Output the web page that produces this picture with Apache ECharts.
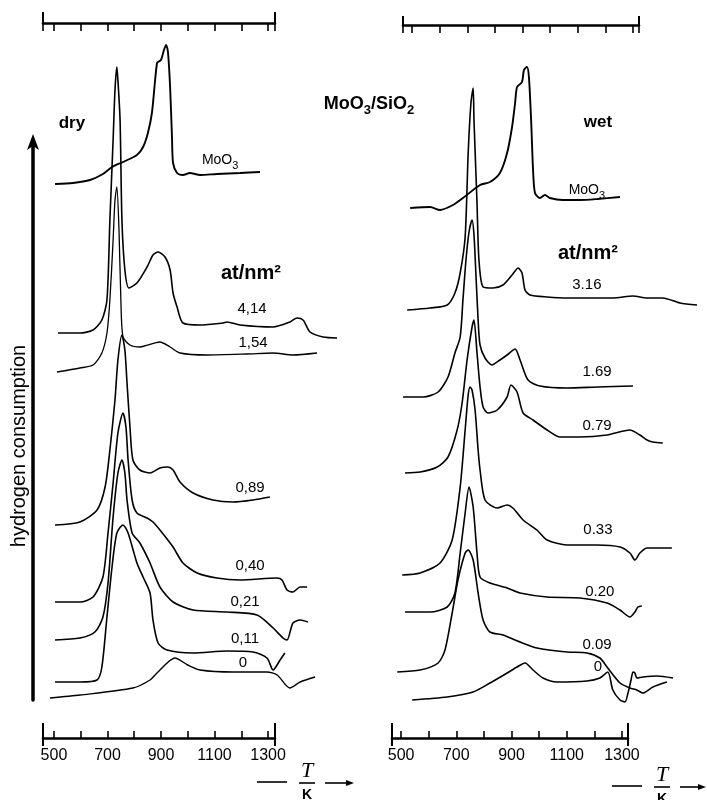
<!DOCTYPE html>
<html>
<head>
<meta charset="utf-8">
<script src="https://cdn.jsdelivr.net/npm/echarts@6/dist/echarts.min.js"></script>
<style>
html,body{margin:0;padding:0;background:#ffffff;}
#c{width:707px;height:800px;}
</style>
</head>
<body>
<div id="c"></div>
<script>
// ---------- DATA (temperature T in K, hydrogen consumption in arbitrary stacked units) ----------
const tickT  = [500, 600, 700, 800, 900, 1000, 1100, 1200, 1300];
const labelT = [500, 700, 900, 1100, 1300];
const dryAxisRange = [459, 1326];
const wetAxisRange = [467, 1322];
const curveMaxT = 1600;

// dry panel
const dryMoO3 = [[504,554],[571,555],[635,558],[683,564],[717,571],[758,576],[810,583],[833,591],[851,605],[866,625],[878,658],[885,675],[889,676],[900,678],[911,688],[919,693],[926,686],[934,651],[941,601],[945,575],[960,565],[982,563],[1008,565],[1046,563],[1109,564],[1195,565],[1270,566]];
const dry414 = [[515,405],[597,405],[646,408],[679,418],[698,438],[709,518],[721,598],[728,648],[735,671],[739,658],[747,618],[754,518],[765,468],[780,450],[810,455],[848,471],[870,483],[889,486],[915,481],[934,468],[945,445],[960,431],[982,415],[1046,413],[1132,415],[1147,416],[1195,413],[1319,411],[1382,416],[1408,420],[1431,418],[1457,406],[1506,401],[1558,400]];
const dry154 = [[511,366],[597,370],[646,373],[679,385],[698,405],[709,438],[721,498],[728,538],[735,551],[743,508],[750,438],[758,401],[784,393],[821,391],[896,396],[934,391],[971,385],[1072,383],[1221,384],[1319,385],[1393,383],[1483,385]];
const dry089 = [[504,213],[597,216],[661,228],[691,251],[709,288],[728,338],[739,378],[754,403],[765,388],[773,355],[784,311],[795,278],[821,268],[859,265],[896,270],[926,271],[945,268],[971,256],[1020,245],[1094,238],[1169,236],[1244,238],[1307,241]];
const dry040 = [[504,136],[597,136],[646,141],[683,161],[702,205],[721,255],[739,305],[758,325],[769,311],[777,278],[792,238],[810,225],[848,220],[870,216],[896,208],[945,191],[982,175],[1035,165],[1109,160],[1195,158],[1334,160],[1352,158],[1371,148],[1393,146],[1420,151],[1446,151]];
const dry021 = [[504,98],[597,100],[653,106],[683,121],[702,155],[721,221],[739,265],[754,278],[765,265],[773,238],[792,205],[821,195],[859,175],[896,151],[945,136],[1020,128],[1147,126],[1259,123],[1319,110],[1356,100],[1371,98],[1393,115],[1420,118],[1449,116]];
const dry011 = [[504,56],[597,56],[661,58],[679,71],[698,121],[717,171],[735,205],[758,213],[777,205],[810,175],[833,161],[859,145],[870,118],[889,95],[922,88],[1020,85],[1147,87],[1244,86],[1296,80],[1319,68],[1345,78],[1363,85]];
const dry000 = [[485,40],[598,43],[795,50],[859,58],[885,65],[952,80],[1000,73],[1046,68],[1169,66],[1296,66],[1334,63],[1382,50],[1420,56],[1476,61]];

// wet panel
const wetMoO3 = [[533,530],[605,531],[641,528],[688,533],[724,540],[786,553],[822,556],[858,565],[884,585],[902,611],[913,635],[920,651],[938,656],[945,668],[956,671],[963,661],[971,618],[978,568],[985,545],[1003,540],[1021,543],[1039,540],[1086,538],[1148,538],[1210,539],[1293,541]];
const wet316 = [[522,428],[605,430],[667,433],[695,445],[714,465],[732,501],[743,585],[753,635],[761,650],[764,618],[775,535],[782,478],[797,451],[833,450],[869,453],[902,463],[924,470],[938,465],[949,448],[967,443],[1029,441],[1101,440],[1210,440],[1267,440],[1340,442],[1391,440],[1448,440],[1510,435],[1572,433]];
const wet169 = [[507,341],[580,341],[634,346],[670,361],[695,385],[714,401],[724,438],[735,478],[746,506],[757,518],[764,503],[772,458],[779,418],[786,393],[804,380],[829,373],[858,378],[884,383],[913,389],[931,378],[960,358],[1003,352],[1101,350],[1210,351],[1340,352]];
const wet079 = [[514,265],[569,266],[631,271],[670,281],[703,308],[721,335],[739,378],[757,411],[764,418],[775,385],[786,351],[797,331],[815,325],[848,328],[884,341],[898,353],[920,346],[942,325],[978,318],[1029,308],[1076,301],[1148,301],[1246,303],[1329,308],[1365,303],[1391,298],[1412,296],[1448,295]];
const wet033 = [[504,163],[569,165],[641,175],[685,198],[714,251],[732,308],[743,343],[750,351],[757,348],[768,328],[779,288],[786,268],[804,238],[848,230],[884,233],[905,230],[942,218],[992,208],[1029,198],[1101,193],[1210,193],[1293,191],[1329,185],[1347,178],[1365,185],[1391,190],[1481,190]];
const wet020 = [[514,126],[605,126],[667,131],[695,145],[714,185],[732,225],[746,251],[761,231],[775,185],[786,161],[822,155],[884,150],[931,145],[1029,141],[1148,140],[1246,135],[1293,128],[1329,121],[1347,126],[1358,131],[1372,132]];
const wet009 = [[486,66],[569,68],[634,75],[659,88],[685,125],[706,158],[732,185],[743,188],[761,178],[779,145],[797,118],[822,106],[869,103],[931,96],[992,90],[1101,86],[1173,85],[1220,80],[1246,71],[1293,55],[1329,50],[1354,48],[1376,45],[1412,51],[1463,56]];
const wet000 = [[540,38],[667,41],[761,46],[822,55],[884,65],[920,71],[949,75],[978,68],[1014,60],[1065,56],[1173,57],[1220,60],[1249,66],[1267,48],[1293,38],[1311,36],[1322,45],[1333,58],[1340,66],[1347,65],[1354,60],[1376,61],[1427,62],[1485,60]];

// curve labels (loading in Mo atoms per nm²)
const dryLoadings = ['4,14','1,54','0,89','0,40','0,21','0,11','0'];
const dryLoadingT = [1240, 1244, 1233, 1233, 1214, 1214, 1206];
const dryLoadingH = [429, 395, 250, 172, 136, 99, 75];
const wetLoadings = ['3.16','1.69','0.79','0.33','0.20','0.09','0'];
const wetLoadingT = [1173, 1210, 1210, 1213, 1220, 1210, 1213];
const wetLoadingH = [453, 366, 312, 208, 146, 93, 71];

// ---------- CHART ----------
const INK = '#000000';
const FONT = '"Liberation Sans", Arial, sans-serif';
const TOP = 23, H = 715;
const DRY_LEFT = 43, DRY_W = 232;
const WET_LEFT = 392, WET_W = 236;
const dryScale = DRY_W / (dryAxisRange[1] - dryAxisRange[0]);
const wetScale = WET_W / (wetAxisRange[1] - wetAxisRange[0]);

function curve(data, idx, w) {
  return {type:'line', xAxisIndex:idx, yAxisIndex:idx, data:data, showSymbol:false, symbol:'none',
    smooth:0.25, clip:false, silent:true, animation:false,
    lineStyle:{color:INK, width:w || 1.6}};
}
function textSeries(idx, texts, ts, hs, style) {
  return {type:'scatter', xAxisIndex:idx, yAxisIndex:idx, symbolSize:0, silent:true, clip:false, animation:false,
    itemStyle:{color:INK, opacity:1},
    data: texts.map((t,i)=>({value:[ts[i], hs[i]], name:t})),
    label:Object.assign({show:true, position:'inside', formatter:p=>p.name, color:INK, opacity:1,
      textBorderWidth:0, textBorderColor:'transparent', textShadowBlur:0, fontFamily:FONT}, style)};
}
const subRich = {
  a:{fontSize:14, lineHeight:14, verticalAlign:'top', fontFamily:FONT, color:INK},
  b:{fontSize:11, lineHeight:11, padding:[7,0,0,0], verticalAlign:'top', fontFamily:FONT, color:INK}
};
function hiddenX(g, min, max) {
  return {type:'value', gridIndex:g, min:min, max:max, show:false, splitLine:{show:false}};
}
function hiddenY(g) {
  return {type:'value', gridIndex:g, min:0, max:H, show:false, splitLine:{show:false}};
}
function mainBottom(g, r) {
  return {type:'value', gridIndex:g, position:'bottom', min:r[0], max:r[1], splitLine:{show:false},
    axisLine:{show:true, onZero:false, lineStyle:{color:INK, width:2.6}},
    axisTick:{show:true, inside:true, length:7, customValues:tickT, lineStyle:{color:INK, width:1.6}},
    axisLabel:{show:true, customValues:labelT, margin:10, color:INK, fontSize:16, fontFamily:FONT,
      formatter:v=>String(v)}};
}
function mainTop(g, r) {
  return {type:'value', gridIndex:g, position:'top', min:r[0], max:r[1], splitLine:{show:false},
    axisLine:{show:true, onZero:false, lineStyle:{color:INK, width:2.6}},
    axisTick:{show:true, inside:true, length:8, customValues:tickT.concat(r), lineStyle:{color:INK, width:1.6}},
    axisLabel:{show:false}};
}
function endTicks(g, r, pos, inside, len) {
  return {type:'value', gridIndex:g, position:pos, min:r[0], max:r[1], splitLine:{show:false},
    axisLine:{show:false, onZero:false},
    axisTick:{show:true, inside:inside, length:len, customValues:r, lineStyle:{color:INK, width:2}},
    axisLabel:{show:false}};
}
function tOverK(x0, y0, arrowEnd) {
  return [
    {type:'line', shape:{x1:x0, y1:y0, x2:x0+30, y2:y0}, style:{stroke:INK, lineWidth:1.6}},
    {type:'line', shape:{x1:x0+42, y1:y0+1, x2:x0+58, y2:y0+1}, style:{stroke:INK, lineWidth:1.6}},
    {type:'text', x:x0+50, y:y0-11, style:{text:'T', fontFamily:'"Liberation Serif", serif', fontStyle:'italic', fontSize:22, fill:INK, textAlign:'center', textVerticalAlign:'middle'}},
    {type:'text', x:x0+50, y:y0+13, style:{text:'K', fontFamily:FONT, fontWeight:'bold', fontSize:14, fill:INK, textAlign:'center', textVerticalAlign:'middle'}},
    {type:'line', shape:{x1:x0+68, y1:y0+1, x2:arrowEnd-4, y2:y0+1}, style:{stroke:INK, lineWidth:1.6}},
    {type:'polygon', shape:{points:[[arrowEnd,y0+1],[arrowEnd-8,y0-2],[arrowEnd-8,y0+4]]}, style:{fill:INK}}
  ];
}

const option = {
  backgroundColor:'#ffffff',
  animation:false,
  grid:[
    {left:DRY_LEFT, top:TOP, width:(curveMaxT - dryAxisRange[0]) * dryScale, height:H},   // 0 dry curves
    {left:WET_LEFT, top:TOP, width:(curveMaxT - wetAxisRange[0]) * wetScale, height:H},   // 1 wet curves
    {left:DRY_LEFT, top:TOP, width:DRY_W, height:H},                                      // 2 dry axes
    {left:WET_LEFT, top:TOP, width:WET_W, height:H},                                      // 3 wet bottom axis
    {left:403, top:25, width:WET_W, height:1},                                            // 4 wet top axis
    {left:33, top:140, width:10, height:560}                                              // 5 arrow
  ],
  xAxis:[
    hiddenX(0, dryAxisRange[0], curveMaxT),          // 0
    hiddenX(1, wetAxisRange[0], curveMaxT),          // 1
    mainBottom(2, dryAxisRange),                     // 2
    mainBottom(3, wetAxisRange),                     // 3
    endTicks(2, dryAxisRange, 'bottom', true, 15),   // 4
    endTicks(2, dryAxisRange, 'bottom', false, 8),   // 5
    endTicks(3, wetAxisRange, 'bottom', true, 15),   // 6
    endTicks(3, wetAxisRange, 'bottom', false, 8),   // 7
    mainTop(2, dryAxisRange),                        // 8
    endTicks(2, dryAxisRange, 'top', false, 11),     // 9
    mainTop(4, wetAxisRange),                        // 10
    endTicks(4, wetAxisRange, 'top', false, 9),      // 11
    hiddenX(5, 0, 1)                                 // 12
  ],
  yAxis:[
    hiddenY(0), hiddenY(1), hiddenY(2), hiddenY(3), hiddenY(4),
    {type:'value', gridIndex:5, min:0, max:1, position:'left', splitLine:{show:false},
      axisLine:{show:true, onZero:false, symbol:['none','arrow'], symbolSize:[9,16], symbolOffset:[0,6],
        lineStyle:{color:INK, width:3.5}},
      axisTick:{show:false}, axisLabel:{show:false}}
  ],
  series:[
    curve(dryMoO3, 0, 1.9), curve(dry414, 0), curve(dry154, 0, 1.3), curve(dry089, 0),
    curve(dry040, 0), curve(dry021, 0), curve(dry011, 0), curve(dry000, 0, 1.4),
    curve(wetMoO3, 1, 1.9), curve(wet316, 1), curve(wet169, 1), curve(wet079, 1),
    curve(wet033, 1), curve(wet020, 1), curve(wet009, 1), curve(wet000, 1),
    textSeries(0, dryLoadings, dryLoadingT, dryLoadingH, {fontSize:15}),
    textSeries(1, wetLoadings, wetLoadingT, wetLoadingH, {fontSize:15}),
    textSeries(0, ['dry'], [567], [615], {fontSize:17, fontWeight:'bold'}),
    textSeries(1, ['wet'], [1213], [616], {fontSize:17, fontWeight:'bold'}),
    textSeries(0, ['MoO₃'], [1121], [578], {formatter:()=>'{a|MoO}{b|3}', rich:subRich}),
    textSeries(1, ['MoO₃'], [1173], [548], {formatter:()=>'{a|MoO}{b|3}', rich:subRich}),
    textSeries(0, ['at/nm²'], [1236], [465], {fontSize:20, fontWeight:'bold'}),
    textSeries(1, ['at/nm²'], [1177], [485], {fontSize:20, fontWeight:'bold'})
  ],
  graphic:[
    {type:'text', x:19, y:446, rotation:Math.PI/2,
      style:{text:'hydrogen consumption', fontFamily:FONT, fontSize:20, fill:INK, textAlign:'center', textVerticalAlign:'middle'}},
    {type:'text', x:369, y:104,
      style:{text:'{a|MoO}{b|3}{a|/SiO}{b|2}', textAlign:'center', textVerticalAlign:'middle', fill:INK,
        rich:{
          a:{fontSize:18, lineHeight:18, fontWeight:'bold', verticalAlign:'top', fontFamily:FONT, fill:INK},
          b:{fontSize:13, lineHeight:13, fontWeight:'bold', padding:[9,0,0,0], verticalAlign:'top', fontFamily:FONT, fill:INK}
        }}}
  ].concat(tOverK(257, 782, 354)).concat(tOverK(612, 786, 706))
};

const chart = echarts.init(document.getElementById('c'), null, {renderer:'canvas'});
chart.setOption(option);
</script>
</body>
</html>
